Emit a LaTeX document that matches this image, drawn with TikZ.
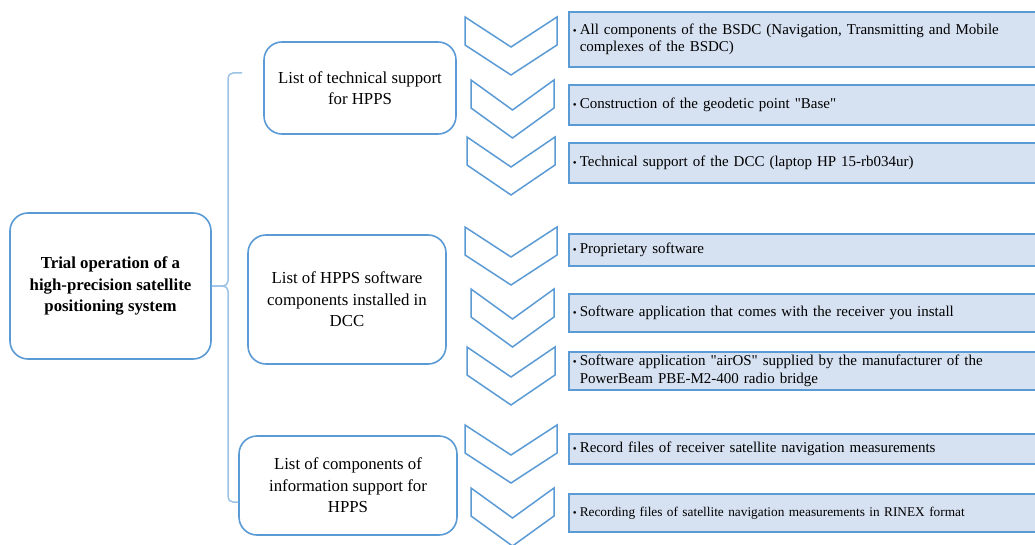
\documentclass[tikz,border=0pt]{standalone}
\usepackage{fontspec}
\setmainfont{Liberation Serif}
\definecolor{bord}{HTML}{5B9BD5}
\definecolor{fillb}{HTML}{D6E1F1}
\definecolor{brk}{HTML}{9DC3E6}
\newcommand{\bul}{\makebox[7pt][l]{\fontsize{11}{11}\selectfont\textbullet}}
\newcommand{\qq}{\textquotedbl}
\newcommand{\chev}[3]{%
  \draw[chevst] (#1,#3) -- ({(#1+#2)/2},#3+30) -- (#2,#3) -- (#2,#3+28) -- ({(#1+#2)/2},#3+58) -- (#1,#3+28) -- cycle;}
\tikzset{
  lbox/.style={draw=bord, line width=1.6pt, rounded corners=18pt, fill=white, align=center,
    font=\fontsize{16.8}{21.5}\selectfont, inner sep=2pt},
  mbox/.style={lbox, font=\fontsize{16.8}{21.5}\selectfont\bfseries},
  ibox/.style={draw=bord, line width=1.6pt, fill=fillb, anchor=west, minimum width=472pt,
    text width=464pt, inner xsep=3pt, align=left, font=\fontsize{15}{17.5}\selectfont},
  chevst/.style={draw=bord, line width=1.5pt, fill=white, line join=miter},
  brkst/.style={draw=brk, line width=1.5pt, rounded corners=5pt}
}
\begin{document}
\begin{tikzpicture}[x=1pt,y=-1pt]
\useasboundingbox (0,0) rectangle (1035,545);
\clip (0,0) rectangle (1035,545);
\fill[white] (0,0) rectangle (1035,545);

% main box
\node[mbox, minimum width=201pt, minimum height=146pt] (main) at (110.5,286)
  {Trial operation of a\\high-precision satellite\\positioning system};

% second-level boxes
\node[lbox, minimum width=192pt, minimum height=92pt] (b1) at (360,88)
  {List of technical support\\for HPPS};
\node[lbox, minimum width=198pt, minimum height=129pt] (b2) at (347,299.5)
  {List of HPPS software\\components installed in\\DCC};
\node[lbox, minimum width=218pt, minimum height=99pt] (b3) at (348,485.5)
  {List of components of\\information support for\\HPPS};

% bracket
\coordinate (bt) at (242,73);
\coordinate (bb) at (238,502);
\draw[brkst] (bt) -- (228,73) -- (228,286) -- (main.east);
\draw[brkst] (main.east) -- (228,286) -- (228,502) -- (bb);

% chevrons
\chev{465}{557}{17}
\chev{471}{554}{80}
\chev{467}{555}{137}
\chev{465}{557}{227}
\chev{471}{554}{289}
\chev{467}{555}{347}
\chev{465}{557}{425}
\chev{471}{554}{488}

% item boxes
\node[ibox, minimum height=55pt] (r1) at (568,39.5)
  {\bul All components of the BSDC (Navigation, Transmitting and Mobile\\\hspace*{7pt}complexes of the BSDC)};
\node[ibox, minimum height=40pt] (r2) at (568,105)
  {\bul Construction of the geodetic point \qq Base\qq};
\node[ibox, minimum height=40pt] (r3) at (568,163)
  {\bul Technical support of the DCC (laptop HP 15-rb034ur)};
\node[ibox, minimum height=32pt] (r4) at (568,250)
  {\bul Proprietary software};
\node[ibox, minimum height=38pt] (r5) at (568,313)
  {\bul Software application that comes with the receiver you install};
\node[ibox, minimum height=38pt] (r6) at (568,371)
  {\bul Software application \qq airOS\qq\ supplied by the manufacturer of the\\\hspace*{7pt}PowerBeam PBE-M2-400 radio bridge};
\node[ibox, minimum height=30pt] (r7) at (568,449)
  {\bul Record files of receiver satellite navigation measurements};
\node[ibox, minimum height=38pt, font=\fontsize{13.3}{16}\selectfont] (r8) at (568,513)
  {\bul Recording files of satellite navigation measurements in RINEX format};
\end{tikzpicture}
\end{document}
